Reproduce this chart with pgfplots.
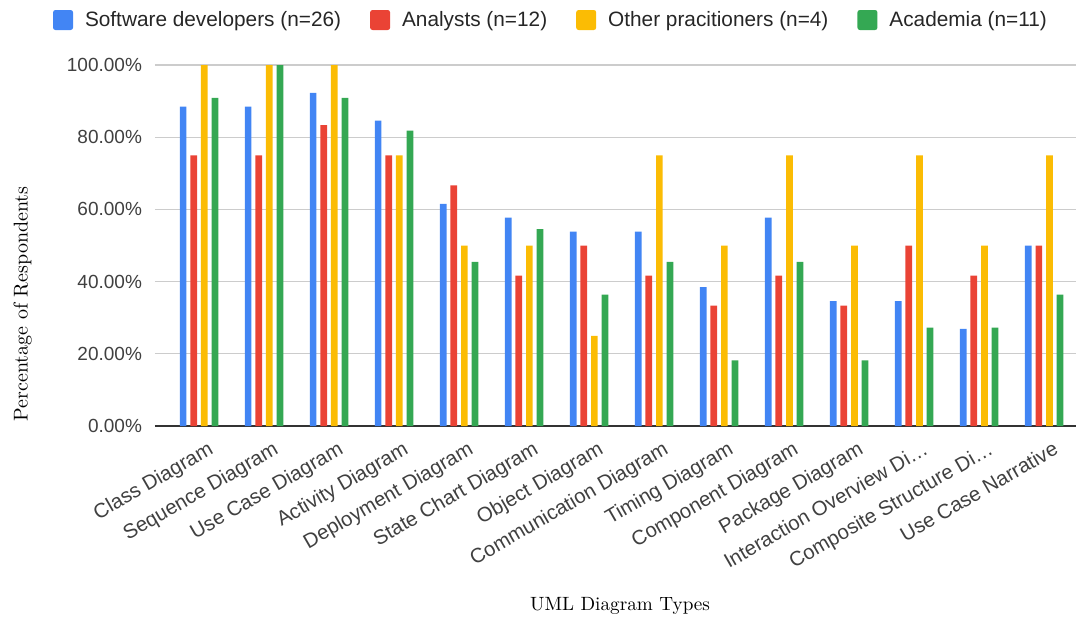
\documentclass[border=0pt]{standalone}
\usepackage{pgfplots}
\pgfplotsset{compat=1.18}
\usepackage{pgfplotstable}
\usepackage{fontspec}
\newfontfamily\arial{Liberation Sans}

\definecolor{gblue}{HTML}{4285F4}
\definecolor{gred}{HTML}{EA4335}
\definecolor{gyellow}{HTML}{FBBC04}
\definecolor{ggreen}{HTML}{34A853}

% share of respondents per diagram type (%)
\pgfplotstableread{
x  soft   anal   other  acad
0  88.46  75.00  100    90.91
1  88.46  75.00  100    100
2  92.31  83.33  100    90.91
3  84.62  75.00  75     81.82
4  61.54  66.67  50     45.45
5  57.69  41.67  50     54.55
6  53.85  50.00  25     36.36
7  53.85  41.67  75     45.45
8  38.46  33.33  50     18.18
9  57.69  41.67  75     45.45
10 34.62  33.33  50     18.18
11 34.62  50.00  75     27.27
12 26.92  41.67  50     27.27
13 50.00  50.00  75     36.36
}\datatable

\begin{document}
\begin{tikzpicture}
\useasboundingbox (0,0) rectangle (538pt,308.5pt);
\begin{axis}[
    at={(77.5pt,95.5pt)}, anchor=south west,
    scale only axis,
    width=460.5pt, height=180.5pt,
    ybar=1.95pt, bar width=3.35pt,
    xmin=-0.677, xmax=13.49,
    ymin=0, ymax=100,
    xtick={0,...,13},
    xticklabels={Class Diagram,Sequence Diagram,Use Case Diagram,Activity Diagram,Deployment Diagram,State Chart Diagram,Object Diagram,Communication Diagram,Timing Diagram,Component Diagram,Package Diagram,Interaction Overview Di…,Composite Structure Di…,Use Case Narrative},
    ytick={0,20,...,100},
    yticklabel={\pgfmathprintnumber[fixed,fixed zerofill,precision=2]{\tick}\%},
    /pgf/number format/assume math mode=true,
    ticklabel style={font=\arial\fontsize{9.5}{11}\selectfont, text=black!75},
    xticklabel style={rotate=30, anchor=north east, inner sep=1pt, yshift=-7pt, xshift=1pt,
        font=\arial\fontsize{10.2}{12}\selectfont},
    yticklabel style={xshift=-3pt},
    major tick length=0pt,
    axis x line*=bottom, axis y line*=left,
    y axis line style={draw=none},
    x axis line style={draw=black!80, line width=0.8pt, -},
    ymajorgrids, grid style={draw=black!20, line width=0.6pt},
    xlabel={UML Diagram Types},
    ylabel={Percentage of Respondents},
    xlabel style={at={(axis description cs:0.505,-0.498)}, anchor=center, font=\fontsize{9.6}{11}\selectfont},
    ylabel style={at={(axis description cs:-0.1436,0.338)}, anchor=center, font=\fontsize{10}{12}\selectfont},
    legend columns=4,
    legend style={at={(axis description cs:0.431,1)}, anchor=center, yshift=22.5pt,
        draw=none, fill=none, font=\arial\fontsize{10.4}{12}\selectfont, text=black!85,
        /tikz/every odd column/.append style={column sep=4pt},
        /tikz/every even column/.append style={column sep=12.5pt}},
    legend image code/.code={\fill[#1, rounded corners=1.2pt] (0pt,-5pt) rectangle (10pt,5pt);},
]
\addplot[fill=gblue, draw=none] table[x=x, y=soft] {\datatable};
\addlegendentry{Software developers (n=26)}
\addplot[fill=gred, draw=none] table[x=x, y=anal] {\datatable};
\addlegendentry{Analysts (n=12)}
\addplot[fill=gyellow, draw=none] table[x=x, y=other] {\datatable};
\addlegendentry{Other pracitioners (n=4)}
\addplot[fill=ggreen, draw=none] table[x=x, y=acad] {\datatable};
\addlegendentry{Academia (n=11)}
\end{axis}
\end{tikzpicture}
\end{document}
